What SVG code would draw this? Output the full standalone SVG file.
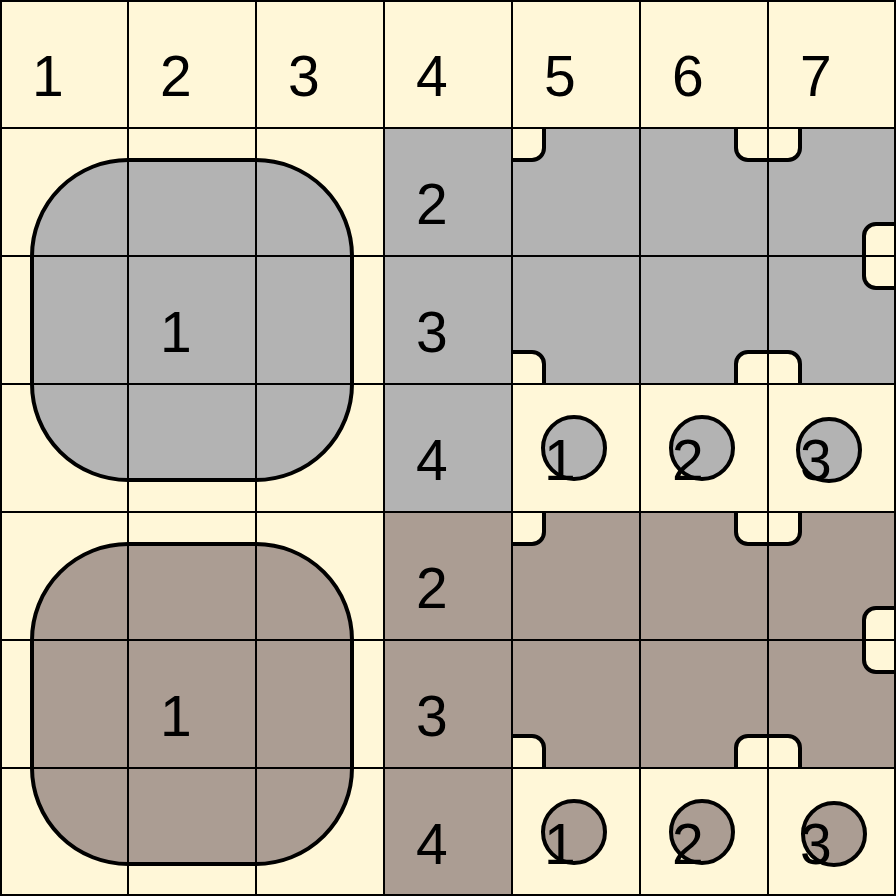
<svg xmlns="http://www.w3.org/2000/svg" width="896" height="896" viewBox="0 0 896 896">
<style>
.cream{fill:#fff7d8}
.gray{fill:#b3b3b3}
.brown{fill:#ab9d93}
.notch{fill:#fff7d8;stroke:#000;stroke-width:4}
.big{stroke:#000;stroke-width:4}
.dot{stroke:#000;stroke-width:4}
.grid{stroke:#000;stroke-width:2;fill:none}
text{font-family:"Liberation Sans",Arial,sans-serif;font-size:57px;fill:#000}
</style>
<defs>
<clipPath id="cg"><rect x="512" y="128" width="384" height="256"/></clipPath>
<clipPath id="cb"><rect x="512" y="512" width="384" height="256"/></clipPath>
</defs>
<rect class="cream" x="0" y="0" width="896" height="896"/>
<g id="gray-region">
<rect class="gray" x="384" y="128" width="128" height="384"/>
<rect class="gray" x="512" y="128" width="384" height="256"/>
<g clip-path="url(#cg)">
<rect class="notch" x="480" y="96" width="64" height="64" rx="12"/>
<rect class="notch" x="736" y="96" width="64" height="64" rx="12"/>
<rect class="notch" x="864" y="224" width="64" height="64" rx="12"/>
<rect class="notch" x="480" y="352" width="64" height="64" rx="12"/>
<rect class="notch" x="736" y="352" width="64" height="64" rx="12"/>
</g>
</g>
<g id="brown-region">
<rect class="brown" x="384" y="512" width="128" height="384"/>
<rect class="brown" x="512" y="512" width="384" height="256"/>
<g clip-path="url(#cb)">
<rect class="notch" x="480" y="480" width="64" height="64" rx="12"/>
<rect class="notch" x="736" y="480" width="64" height="64" rx="12"/>
<rect class="notch" x="864" y="608" width="64" height="64" rx="12"/>
<rect class="notch" x="480" y="736" width="64" height="64" rx="12"/>
<rect class="notch" x="736" y="736" width="64" height="64" rx="12"/>
</g>
</g>
<g id="big-gray"><rect class="gray big" x="32" y="160" width="320" height="320" rx="96"/></g>
<g id="big-brown"><rect class="brown big" x="32" y="544" width="320" height="320" rx="96"/></g>
<g id="gray-dots">
<circle class="gray dot" cx="574" cy="448" r="31"/>
<circle class="gray dot" cx="702" cy="448" r="31"/>
<circle class="gray dot" cx="829" cy="450" r="31"/>
</g>
<g id="brown-dots">
<circle class="brown dot" cx="574" cy="832" r="31"/>
<circle class="brown dot" cx="702" cy="832" r="31"/>
<circle class="brown dot" cx="834" cy="834" r="31"/>
</g>
<g id="grid">
<path class="grid" d="M128 0V896M256 0V896M384 0V896M512 0V896M640 0V896M768 0V896M0 128H896M0 256H896M0 384H896M0 512H896M0 640H896M0 768H896M1 1H895V895H1Z"/>
</g>
<g id="labels">
<text x="32" y="96">1</text>
<text x="160" y="96">2</text>
<text x="288" y="96">3</text>
<text x="416" y="96">4</text>
<text x="544" y="96">5</text>
<text x="672" y="96">6</text>
<text x="800" y="96">7</text>
<text x="416" y="224">2</text>
<text x="416" y="352">3</text>
<text x="416" y="480">4</text>
<text x="160" y="352">1</text>
<text x="544" y="480">1</text>
<text x="672" y="480">2</text>
<text x="800" y="480">3</text>
<text x="416" y="608">2</text>
<text x="416" y="736">3</text>
<text x="416" y="864">4</text>
<text x="160" y="736">1</text>
<text x="544" y="864">1</text>
<text x="672" y="864">2</text>
<text x="800" y="864">3</text>
</g>
</svg>
